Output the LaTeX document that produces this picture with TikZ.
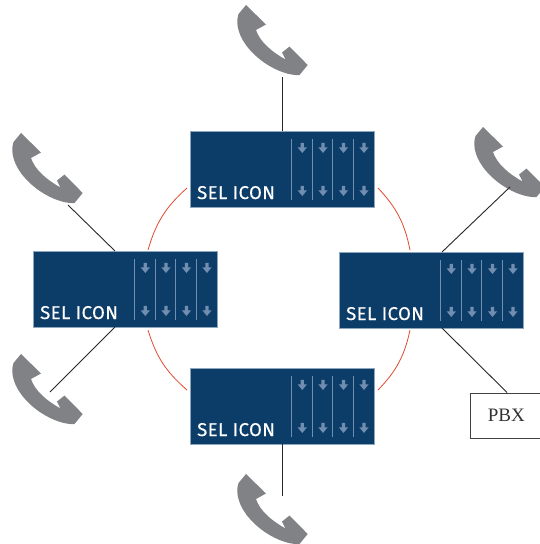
\documentclass[tikz,border=0pt]{standalone}
\usepackage{fontspec}
\setmainfont{Liberation Serif}
\newfontfamily\labelfont[LetterSpace=2.5,FakeBold=0.35]{Fira Sans}
\definecolor{selblue}{HTML}{0C3C68}
\definecolor{seledge}{HTML}{8CA6BE}
\definecolor{selmark}{HTML}{718DB0}
\definecolor{phonegrey}{HTML}{808285}
\definecolor{ringred}{HTML}{E0492F}
\tikzset{
  selbox/.style={draw=seledge,line width=0.7pt,fill=selblue,minimum width=184pt,minimum height=76pt,inner sep=0pt,outer sep=0pt},
  sellabel/.style={text=white,font=\labelfont\fontsize{18.5}{18.5}\selectfont,inner sep=0pt,anchor=base west},
  pbxbox/.style={draw=black!75,line width=0.8pt,fill=white,minimum width=72pt,minimum height=45pt,inner sep=0pt,font=\fontsize{19}{19}\selectfont,text=black!80},
  wire/.style={draw=black!85,line width=0.9pt},
  ring/.style={draw=ringred,line width=0.8pt},
  portline/.style={draw=selmark,line width=1.1pt},
  porthead/.style={fill=selmark,draw=none},
  phone/.style={fill=phonegrey,draw=none}
}
\newcommand{\portarrow}[2]{%
  \fill[porthead,shift={(#1,#2)}] (-1.6,-5.2) -- (1.6,-5.2) -- (1.6,-0.6) -- (4.6,-0.6) -- (0,5) -- (-4.6,-0.6) -- (-1.6,-0.6) -- cycle;}
\newcommand{\selunit}[3]{%
  \node[selbox] (#1) at (#2,#3) {};
  \node[sellabel] (#1label) at (#2-85,#3+30) {SEL ICON};
  \foreach \dx in {9.7,30.7,50.7,71.7} {\draw[portline] (#2+\dx,#3-30) -- (#2+\dx,#3+31);}
  \foreach \dx in {20.3,41,61.5,82} {\portarrow{#2+\dx}{#3-21}\portarrow{#2+\dx}{#3+22}}
}
\newcommand{\handset}[2]{%
  \fill[phone,shift={(#1,#2)}] (20,5) -- (40,24.5) -- (30,30)
    .. controls (34,42) and (46,52) .. (59.5,59.5) -- (56,52.5) -- (63.5,46.5) -- (81.7,65) -- (73.5,75)
    .. controls (60,76) and (38,66) .. (24,50)
    .. controls (13,38) and (9,24) .. (12.5,14) -- cycle;}
\begin{document}
\begin{tikzpicture}[x=1pt,y=-1pt]
\useasboundingbox (0,0) rectangle (540,544);
\handset{226}{0}
\handset{1}{128}
\handset{463}{122}
\handset{1}{349}
\handset{226}{469}
\selunit{top}{282}{169}
\selunit{left}{125}{289}
\selunit{right}{431}{290}
\selunit{bottom}{282}{406}
\node[pbxbox,anchor=north west] (pbx) at (470,392.5) {PBX};
\coordinate (ptop) at (282,77);
\coordinate (pul) at (68,205);
\coordinate (pur) at (510,187);
\coordinate (pll) at (50,392);
\coordinate (pbot) at (282,496);
\coordinate (lt) at (115,251);
\coordinate (lb) at (115,327);
\coordinate (rt) at (442,252);
\coordinate (rb) at (442,328);
\coordinate (pbxin) at (507,392.5);
\coordinate (r1a) at (148,250);
\coordinate (r1b) at (187,188);
\coordinate (r2a) at (378,188);
\coordinate (r2b) at (410,250);
\coordinate (r3a) at (410,330);
\coordinate (r3b) at (378,390);
\coordinate (r4a) at (187,390);
\coordinate (r4b) at (148,330);
\draw[wire] (ptop) -- (top.north);
\draw[wire] (pul) -- (lt);
\draw[wire] (pur) -- (rt);
\draw[wire] (pll) -- (lb);
\draw[wire] (rb) -- (pbxin);
\draw[wire] (bottom.south) -- (pbot);
\draw[ring] (r1a) to[bend left=16] (r1b);
\draw[ring] (r2a) to[bend left=16] (r2b);
\draw[ring] (r3a) to[bend left=16] (r3b);
\draw[ring] (r4a) to[bend left=16] (r4b);
\end{tikzpicture}
\end{document}
